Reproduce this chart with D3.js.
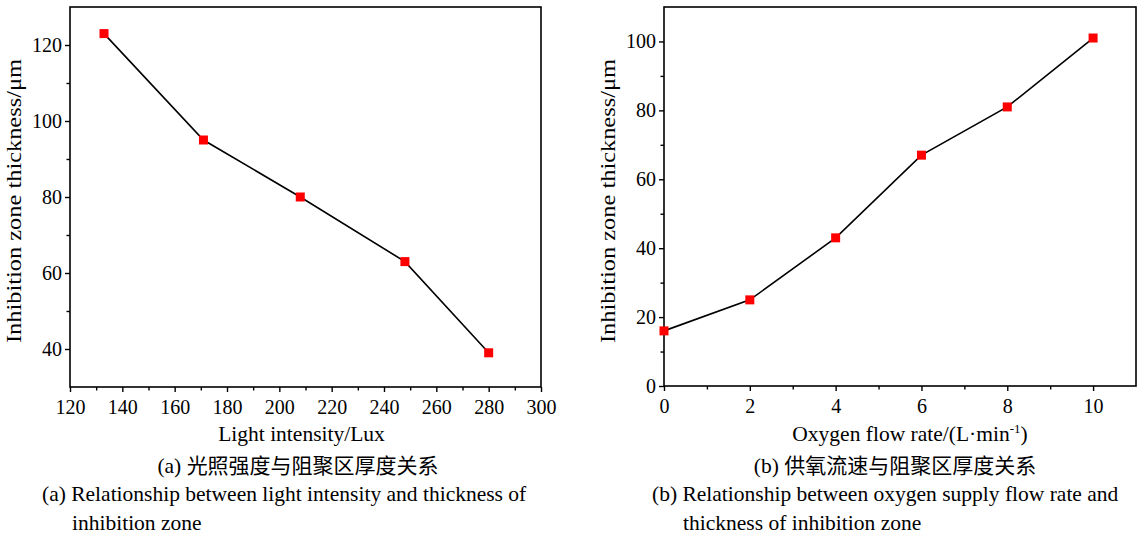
<!DOCTYPE html>
<html>
<head>
<meta charset="utf-8">
<script src="https://cdn.jsdelivr.net/npm/d3@7"></script>
<style>
	body { margin: 0; background: #fff; }
	svg { display: block; font-family: "Liberation Serif", "Times New Roman", serif; }
	.frame { fill: none; stroke: #000; stroke-width: 1.6; }
	.tick line { stroke: #000; stroke-width: 1.4; }
	.domain { display: none; }
	.title { font-size: 21.5px; fill: #000; }
	.cap-cn { font-family: "Noto Sans CJK SC", "Liberation Serif", serif; font-size: 21px; }
</style>
</head>
<body>
<div id="chart"></div>
<script>
// panel (a): light intensity vs thickness
const lightX = [133, 171, 208, 248, 280];
const lightY = [123, 95, 80, 63, 39];
const lightXTicks = [120, 140, 160, 180, 200, 220, 240, 260, 280, 300];
const lightYTicks = [40, 60, 80, 100, 120];

// panel (b): oxygen flow rate vs thickness
const oxyX = [0, 2, 4, 6, 8, 10];
const oxyY = [16, 25, 43, 67, 81, 101];
const oxyXTicks = [0, 2, 4, 6, 8, 10];
const oxyYTicks = [0, 20, 40, 60, 80, 100];

const W = 1143, H = 536;
const SERIF = '"Liberation Serif", "Times New Roman", serif';
const svg = d3.select('#chart').append('svg').attr('width', W).attr('height', H);

function styleTicks(sel) {
	sel.attr('font-family', SERIF);
	sel.selectAll('text')
		.style('font-family', SERIF)
		.style('font-size', '20px')
		.style('fill', '#000');
}

function drawPanel(p) {
	const g = svg.append('g');
	const x = d3.scaleLinear().domain(p.xDomain).range([p.left, p.right]);
	const y = d3.scaleLinear().domain(p.yDomain).range([p.bottom, p.top]);

	// minor ticks halfway between majors
	const step = p.yTicks[1] - p.yTicks[0];
	const xMinor = d3.pairs(p.xTicks).map(([a, b]) => (a + b) / 2);
	const yMinor = d3.pairs(p.yTicks).map(([a, b]) => (a + b) / 2)
		.concat([p.yTicks[0] - step / 2, p.yTicks[p.yTicks.length - 1] + step / 2])
		.filter(v => v > p.yDomain[0] && v < p.yDomain[1]);

	g.append('g').attr('transform', `translate(0,${p.bottom})`)
		.call(d3.axisBottom(x).tickValues(xMinor).tickSize(3.5).tickFormat(''));
	g.append('g').attr('transform', `translate(${p.left},0)`)
		.call(d3.axisLeft(y).tickValues(yMinor).tickSize(3.5).tickFormat(''));

	g.append('g').attr('transform', `translate(0,${p.bottom})`)
		.call(d3.axisBottom(x).tickValues(p.xTicks).tickSize(5).tickPadding(8).tickFormat(d3.format('d')))
		.call(styleTicks);
	g.append('g').attr('transform', `translate(${p.left},0)`)
		.call(d3.axisLeft(y).tickValues(p.yTicks).tickSize(5).tickPadding(3).tickFormat(d3.format('d')))
		.call(styleTicks);

	g.append('rect').attr('class', 'frame')
		.attr('x', p.left).attr('y', p.top)
		.attr('width', p.right - p.left).attr('height', p.bottom - p.top);

	const pts = p.xs.map((v, i) => [v, p.ys[i]]);
	g.append('path')
		.attr('d', d3.line().x(d => x(d[0])).y(d => y(d[1]))(pts))
		.attr('fill', 'none').attr('stroke', '#000').attr('stroke-width', 1.6);

	g.selectAll('rect.pt').data(pts).join('rect')
		.attr('class', 'pt')
		.attr('x', d => x(d[0]) - 4.5).attr('y', d => y(d[1]) - 4.5)
		.attr('width', 9).attr('height', 9)
		.attr('fill', '#f00');

	// x title
	const xt = g.append('text').attr('class', 'title')
		.attr('x', (p.left + p.right) / 2 + p.xTitleShift).attr('y', 441)
		.attr('text-anchor', 'middle');
	p.xTitle(xt);

	// y title (reference image is stretched vertically, so fit its length)
	g.append('text').attr('class', 'title')
		.attr('transform', `translate(${p.yTitleX},${p.yTitleY}) rotate(-90)`)
		.attr('text-anchor', 'middle')
		.attr('textLength', 284).attr('lengthAdjust', 'spacingAndGlyphs')
		.text('Inhibition zone thickness/μm');

	// captions
	const cn = g.append('text').attr('class', 'title cap-cn')
		.attr('x', p.capCenter).attr('y', 473).attr('text-anchor', 'middle');
	cn.append('tspan').style('font-family', SERIF).style('font-size', '21.5px').text(p.capLabel + ' ');
	cn.append('tspan').text(p.capCn);
	g.append('text').attr('class', 'title')
		.attr('x', p.capX1).attr('y', 501).text(p.capEn1);
	g.append('text').attr('class', 'title')
		.attr('x', p.capX2).attr('y', 530).text(p.capEn2);
}

drawPanel({
	xs: lightX, ys: lightY, xTicks: lightXTicks, yTicks: lightYTicks,
	xDomain: [120, 300], yDomain: [30, 130],
	left: 70, right: 541, top: 7, bottom: 387,
	xTitleShift: -4,
	xTitle: t => t.text('Light intensity/Lux'),
	yTitleX: 21, yTitleY: 201,
	capCenter: 298, capLabel: '(a)', capCn: '光照强度与阻聚区厚度关系',
	capX1: 42, capEn1: '(a) Relationship between light intensity and thickness of',
	capX2: 72, capEn2: 'inhibition zone'
});

drawPanel({
	xs: oxyX, ys: oxyY, xTicks: oxyXTicks, yTicks: oxyYTicks,
	xDomain: [0, 11], yDomain: [0, 110],
	left: 664, right: 1136, top: 7, bottom: 386,
	xTitleShift: 10,
	xTitle: t => {
		t.append('tspan').text('Oxygen flow rate/(L·min');
		t.append('tspan').attr('dy', -8).style('font-size', '13px').text('-1');
		t.append('tspan').attr('dy', 8).text(')');
	},
	yTitleX: 615, yTitleY: 201,
	capCenter: 895, capLabel: '(b)', capCn: '供氧流速与阻聚区厚度关系',
	capX1: 652, capEn1: '(b) Relationship between oxygen supply flow rate and',
	capX2: 683, capEn2: 'thickness of inhibition zone'
});
</script>
</body>
</html>
